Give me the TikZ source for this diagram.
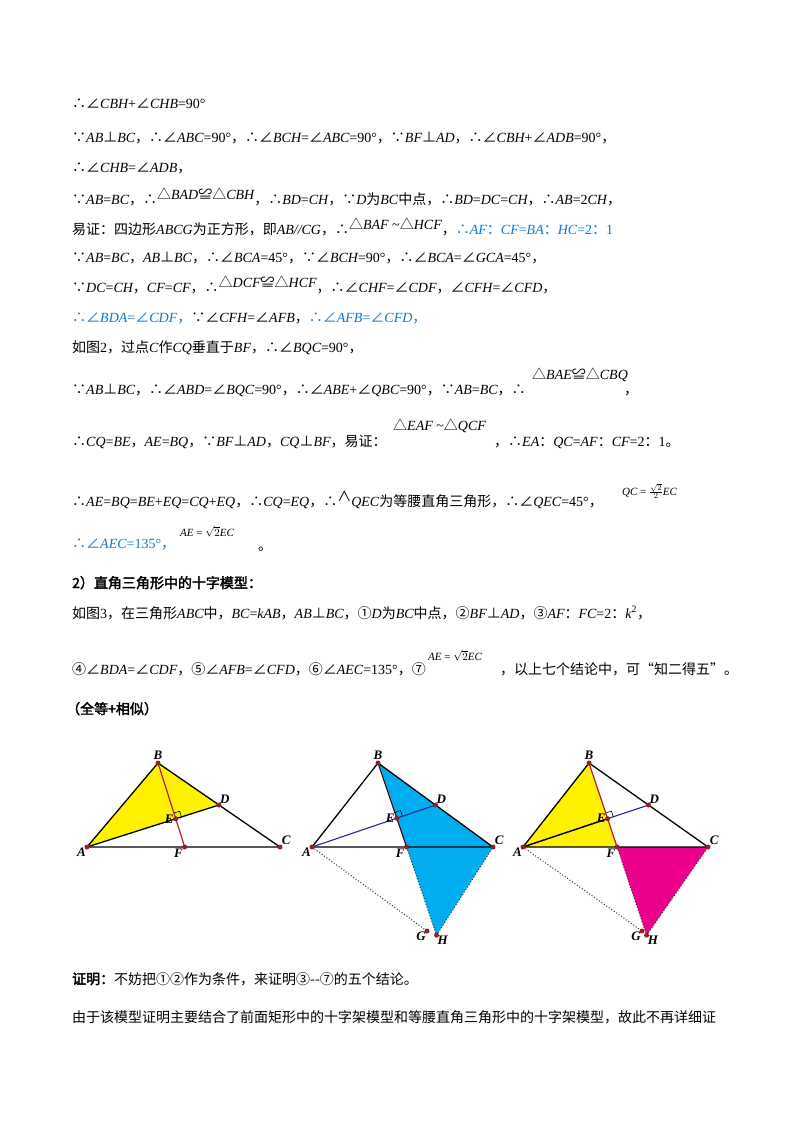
\documentclass[tikz,border=0pt]{standalone}
\usepackage{fontspec}
\usetikzlibrary{calc,positioning}
\setmainfont{Liberation Serif}
\newfontfamily\cjk{Noto Sans CJK SC}
\newfontfamily\cjkb{Noto Sans CJK SC}[FakeBold=2.5]
\newcommand{\z}[1]{{\cjk #1}}
\newcommand{\I}[1]{{\itshape #1}}
\newcommand{\so}{\z{∴}}
\newcommand{\be}{\z{∵}}
\newcommand{\an}{\z{∠}}
\newcommand{\pp}{\z{⊥}}
\newcommand{\tri}{\z{△}}
\newcommand{\cg}{\z{≌}}
\newcommand{\up}[1]{\raisebox{5pt}{#1}}
\definecolor{blu}{RGB}{20,120,200}
\definecolor{pt}{RGB}{150,30,40}
\definecolor{redl}{RGB}{180,30,50}
\definecolor{bluel}{RGB}{40,40,150}
\begin{document}
\begin{tikzpicture}[x=1pt,y=-1pt,
  tx/.style={anchor=base west,inner sep=0pt,font=\fontsize{14}{16}\selectfont},
  sm/.style={anchor=base west,inner sep=0pt,font=\fontsize{11}{13}\selectfont},
  lab/.style={inner sep=1pt,font=\fontsize{13}{14}\selectfont\bfseries\itshape},
  dot/.style={circle,fill=pt,inner sep=0pt,minimum size=5pt},
  blk/.style={line width=1.3pt,black},
  bl/.style={line width=1.1pt,bluel},
  rd/.style={line width=1.2pt,redl},
  dt/.style={line width=1pt,dotted,black!80},
  ra/.style={line width=0.6pt}]
\useasboundingbox (0,0) rectangle (800,1132);
\fill[white] (0,0) rectangle (800,1132);
% text
\node[tx] (l1) at (72,108) {\so\an\I{CBH}+\an\I{CHB}=90°};
\node[tx] (l2) at (72,142) {\be\I{AB}\pp\I{BC}\z{，}\so\an\I{ABC}=90°\z{，}\so\an\I{BCH}=\an\I{ABC}=90°\z{，}\be\I{BF}\pp\I{AD}\z{，}\so\an\I{CBH}+\an\I{ADB}=90°\z{，}};
\node[tx] (l3) at (72,172) {\so\an\I{CHB}=\an\I{ADB}\z{，}};
\node[tx] (l4) at (72,204) {\be\I{AB}=\I{BC}\z{，}\so\up{\tri\I{BAD}\cg\tri\I{CBH}}\z{，}\so\I{BD}=\I{CH}\z{，}\be\I{D}\z{为}\I{BC}\z{中点，}\so\I{BD}=\I{DC}=\I{CH}\z{，}\so\I{AB}=2\I{CH}\z{，}};
\node[tx] (l5) at (72,234) {\z{易证：四边形}\I{ABCG}\z{为正方形，即}\I{AB//CG}\z{，}\so\up{\tri\I{BAF} \textasciitilde\tri\I{HCF}}\z{，}\textcolor{blu}{\so\I{AF}\z{：}\I{CF}=\I{BA}\z{：}\I{HC}=2\z{：}1}};
\node[tx] (l6) at (72,262) {\be\I{AB}=\I{BC}\z{，}\I{AB}\pp\I{BC}\z{，}\so\an\I{BCA}=45°\z{，}\be\an\I{BCH}=90°\z{，}\so\an\I{BCA}=\an\I{GCA}=45°\z{，}};
\node[tx] (l7) at (72,292) {\be\I{DC}=\I{CH}\z{，}\I{CF}=\I{CF}\z{，}\so\up{\tri\I{DCF}\cg\tri\I{HCF}}\z{，}\so\an\I{CHF}=\an\I{CDF}\z{，}\an\I{CFH}=\an\I{CFD}\z{，}};
\node[tx] (l8) at (72,322) {\textcolor{blu}{\so\an\I{BDA}=\an\I{CDF}\z{，}}\be\an\I{CFH}=\an\I{AFB}\z{，}\textcolor{blu}{\so\an\I{AFB}=\an\I{CFD}\z{，}}};
\node[tx] (l9) at (72,352) {\z{如图}2\z{，过点}\I{C}\z{作}\I{CQ}\z{垂直于}\I{BF}\z{，}\so\an\I{BQC}=90°\z{，}};
\node[tx] (l10) at (72,394) {\be\I{AB}\pp\I{BC}\z{，}\so\an\I{ABD}=\an\I{BQC}=90°\z{，}\so\an\I{ABE}+\an\I{QBC}=90°\z{，}\be\I{AB}=\I{BC}\z{，}\so};
\node[tx] (l10b) at (532,379) {\tri\I{BAE}\cg\tri\I{CBQ}};
\node[tx] (l10c) at (624,394) {\z{，}};
\node[tx] (l11) at (72,446) {\so\I{CQ}=\I{BE}\z{，}\I{AE}=\I{BQ}\z{，}\be\I{BF}\pp\I{AD}\z{，}\I{CQ}\pp\I{BF}\z{，易证：}};
\node[tx] (l11b) at (393,430) {\tri\I{EAF} \textasciitilde\tri\I{QCF}};
\node[tx] (l11c) at (494,446) {\z{，}\so\I{EA}\z{：}\I{QC}=\I{AF}\z{：}\I{CF}=2\z{：}1\z{。}};
\node[tx] (l12) at (72,506) {\so\I{AE}=\I{BQ}=\I{BE}+\I{EQ}=\I{CQ}+\I{EQ}\z{，}\so\I{CQ}=\I{EQ}\z{，}\so\up{\z{∧}}\I{QEC}\z{为等腰直角三角形，}\so\an\I{QEC}=45°\z{，}};
\node[sm] (l12b) at (622,495) {\I{QC} = $\frac{\sqrt{2}}{2}$\I{EC}};
\node[tx] (l13) at (72,548) {\textcolor{blu}{\so\an\I{AEC}=135°\z{，}}};
\node[sm] (l13b) at (180,536) {\I{AE} = $\sqrt{2}$\I{EC}};
\node[tx] (l13c) at (258,550) {\z{。}};
\node[tx] (h1) at (72,588) {\cjkb 2）直角三角形中的十字模型：};
\node[tx] (l14) at (72,618) {\z{如图}3\z{，在三角形}\I{ABC}\z{中，}\I{BC}=\I{kAB}\z{，}\I{AB}\pp\I{BC}\z{，①}\I{D}\z{为}\I{BC}\z{中点，②}\I{BF}\pp\I{AD}\z{，③}\I{AF}\z{：}\I{FC}=2\z{：}\I{k}\textsuperscript{2}\z{，}};
\node[tx] (l15) at (72,674) {\z{④}\an\I{BDA}=\an\I{CDF}\z{，⑤}\an\I{AFB}=\an\I{CFD}\z{，⑥}\an\I{AEC}=135°\z{，⑦}};
\node[sm] (l15b) at (428,660) {\I{AE} = $\sqrt{2}$\I{EC}};
\node[tx] (l15c) at (500,674) {\z{，以上七个结论中，可“知二得五”。}};
\node[tx] (h2) at (66,714) {\cjkb （全等+相似）};
\node[tx] (l16) at (72,984) {{\cjkb 证明：}\z{不妨把①②作为条件，来证明③--⑦的五个结论。}};
\node[tx] (l17) at (72,1022) {\z{由于该模型证明主要结合了前面矩形中的十字架模型和等腰直角三角形中的十字架模型，故此不再详细证}};
% figures
\coordinate (A1) at (87,847); \coordinate (B1) at (158,763); \coordinate (C1) at (280,847);
\coordinate (A2) at (312,847); \coordinate (B2) at (378,763); \coordinate (C2) at (493,847);
\coordinate (A3) at (523,847); \coordinate (B3) at (589,763); \coordinate (C3) at (708,847);
\foreach \i in {1,2,3}{
  \coordinate (D\i) at ($(B\i)!0.5!(C\i)$);
  \coordinate (E\i) at ($(A\i)!(B\i)!(D\i)$);
  \path let \p1=(B\i), \p2=(E\i) in
    coordinate (F\i) at ({\x1+(\x2-\x1)*((-847pt-\y1)/(\y2-\y1))}, -847pt);
  \coordinate (H\i) at ($(B\i)!2.05!(F\i)$);
  \coordinate (G\i) at ($(A\i)+(C\i)-(B\i)$);
  \coordinate (u\i) at ($(E\i)!6pt!(D\i)$);
  \coordinate (v\i) at ($(E\i)!6pt!(B\i)$);
  \coordinate (w\i) at ($(u\i)+(v\i)-(E\i)$);
}
% figure 1
\fill[yellow] (A1)--(B1)--(D1)--cycle;
\draw[blk] (A1)--(B1)--(C1)--cycle;
\draw[blk] (A1)--(D1);
\draw[rd] (B1)--(F1);
\draw[ra] (u1)--(w1)--(v1);
% figure 2
\fill[cyan] (B2)--(C2)--(H2)--cycle;
\draw[blk] (A2)--(B2)--(C2)--cycle;
\draw[bl] (A2)--(D2);
\draw[line width=1.1pt,black!70!red] (B2)--(F2);
\draw[dt] (F2)--(H2)--(C2) (A2)--(G2);
\draw[ra] (u2)--(w2)--(v2);
% figure 3
\fill[yellow] (A3)--(B3)--(F3)--cycle;
\fill[magenta] (F3)--(C3)--(H3)--cycle;
\draw[blk] (A3)--(B3)--(C3)--cycle;
\draw[bl] (A3)--(D3);
\draw[blk] (A3)--(E3);
\draw[rd] (B3)--(F3);
\draw[dt] (F3)--(H3)--(C3) (A3)--(G3);
\draw[ra] (u3)--(w3)--(v3);
% dots and labels
\foreach \i in {1,2,3}{
  \foreach \p in {A,B,C,D,E,F}{\node[dot] (d\p\i) at (\p\i) {};}
  \node[lab,above=2pt] (lB\i) at (B\i) {B};
  \node[lab,below left=0pt] (lA\i) at (A\i) {A};
  \node[lab,above right=1pt] (lC\i) at (C\i) {C};
  \node[lab,above right=0pt] (lD\i) at (D\i) {D};
  \node[lab,left=1pt] (lE\i) at (E\i) {E};
  \node[lab,below left=1pt] (lF\i) at (F\i) {F};
}
\foreach \i in {2,3}{
  \node[dot] (dH\i) at (H\i) {}; \node[dot] (dG\i) at (G\i) {};
  \node[lab,below right=0pt] (lH\i) at (H\i) {H};
  \node[lab,below left=0pt] (lG\i) at (G\i) {G};
}
\end{tikzpicture}
\end{document}
